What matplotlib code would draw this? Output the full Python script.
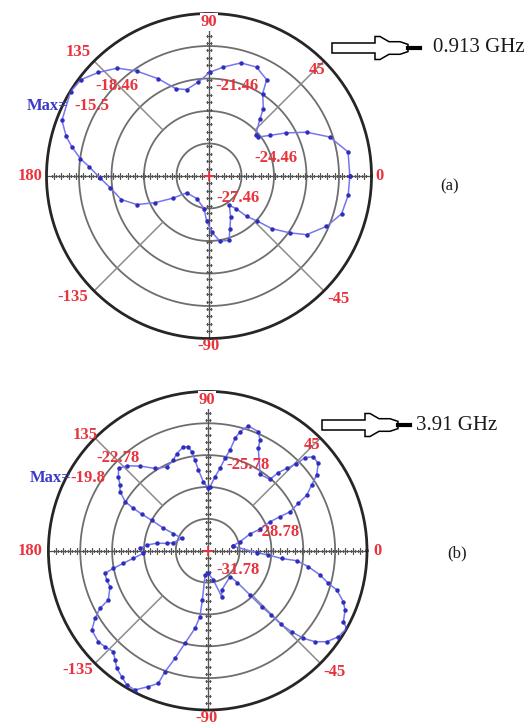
#Radiation patterns at the two resonant frequencies, (a) 0.913 GHz and (b) 3.91 GHz

import numpy as np
import matplotlib.pyplot as plt
from matplotlib.patches import Polygon

plt.rcParams['font.family'] = ['Liberation Serif', 'DejaVu Serif']

# (a) 0.913 GHz, angle in degrees, gain in dB
ang_a = [0, 9.8, 17.9, 24.2, 29.2, 33.7, 38.3, 41.5, 48.3, 51.1, 56.9, 59.1, 66.4, 74.2, 82.5, 89.4,
         96.5, 104.5, 110.7, 117.5, 124.6, 130.3, 136.9, 143, 148.7, 159.3, 164.5, 168, 172.3, 175.7,
         181.1, 186.7, 195, 201.6, 206.3, 211.7, 217, 241.4, 261.3, 267, 272.7, 279.6, 287.3, 291.7,
         297.9, 304.7, 309.6, 313, 317, 320, 324.9, 329, 336.8, 344.1, 352.1]
db_a = [-17.46, -17.43, -18.75, -20.59, -22.31, -23.70, -24.65, -24.70, -23.39, -22.47, -21.39, -20.10,
        -19.49, -19.61, -20.32, -20.87, -21.73, -22.22, -21.85, -20.35, -18.69, -17.40, -16.47, -15.67,
        -15.50, -15.95, -16.78, -17.52, -18.47, -19.39, -20.41, -21.27, -22.07, -23.30, -24.90, -26.59,
        -27.88, -28.09, -27.42, -26.31, -25.30, -24.34, -24.25, -25.23, -26.19, -27.17, -26.56, -25.36,
        -24.37, -22.90, -21.33, -19.95, -18.66, -17.73, -17.49]
rings_a = [-27.46, -24.46, -21.46, -18.46]
center_a, outer_a = -30.46, -15.46
max_a = -15.5

# (b) 3.91 GHz
ang_b = [10.6, 15.6, 21.5, 22.5, 24.9, 25.2, 25.3, 27.6, 29.3, 32.3, 34.8, 38.3, 41.7, 43.7, 44.5, 46.2,
         47.9, 48.9, 55.6, 63.7, 64.7, 66.9, 72.0, 74.8, 76.3, 77.5, 79.4, 81.5, 84.3, 87.9, 89.6, 93.6,
         96.6, 98.0, 99.2, 100.5, 103.2, 107.7, 110.7, 116.0, 122.6, 128.6, 133.7, 137.3, 140.4, 143.2,
         146.0, 149.3, 150.3, 151.0, 151.5, 153.0, 153.5, 154.6, 166.9, 169.8, 171.7, 174.7, 178.0,
         182.3, 185.8, 188.5, 190.6, 192.4, 196.2, 200.2, 206.4, 208.1, 211.0, 214.4, 219.8, 223.1,
         226.9, 229.7, 232.3, 235.7, 238.9, 242.4, 246.4, 249.6, 250.5, 253.1, 256.2, 260.7, 263.3,
         263.8, 264.0, 271.5, 280.8, 287.0, 289.6, 311.0, 313.0, 313.7, 314.0, 314.6, 314.9, 316.0,
         317.5, 319.7, 322.6, 326.6, 330.8, 332.4, 336.6, 339.4, 343.1, 344.9, 347.8, 351.0, 353.6,
         354.0, 355.9, 357.7]
db_b = [-32.40, -31.61, -30.51, -29.48, -28.32, -27.25, -26.21, -25.15, -24.08, -23.20, -22.29, -21.51,
        -21.48, -22.10, -23.14, -24.05, -24.86, -25.87, -26.06, -24.02, -23.26, -22.60, -22.42, -23.17,
        -23.89, -25.08, -25.93, -26.94, -27.78, -28.76, -28.91, -28.28, -27.12, -26.15, -25.33, -24.83,
        -24.74, -25.18, -25.65, -26.00, -25.59, -24.58, -23.73, -23.36, -23.86, -24.46, -24.83, -25.74,
        -26.72, -27.66, -28.76, -30.10, -31.17, -32.08, -31.45, -30.86, -29.92, -29.01, -28.41,
        -28.72, -27.74, -26.75, -25.74, -24.87, -24.87, -24.98, -24.33, -23.28, -22.41, -21.55, -21.38,
        -21.54, -21.77, -21.29, -20.78, -20.42, -20.02, -19.99, -20.81, -21.46, -22.64, -24.19, -25.81,
        -27.37, -28.53, -30.10, -32.48, -32.65, -31.97, -30.26, -30.85, -31.56, -30.67, -29.01, -27.45,
        -26.24, -25.02, -23.79, -22.57, -21.53, -20.67, -20.05, -19.79, -20.36, -20.69, -21.14, -22.08,
        -23.02, -23.96, -25.19, -26.34, -27.77, -29.06, -30.17]
rings_b = [-31.78, -28.78, -25.78, -22.78]
center_b, outer_b = -34.78, -19.78
max_b = -19.8

angle_labels = [0, 45, 90, 135, 180, -135, -90, -45]

W, H = 530, 727
RED = '#e8323c'
BLUE = '#3b3bc8'

fig = plt.figure(figsize=(W / 100, H / 100), dpi=100)


def px(x, y):
    # pixel position (from top-left) to figure fraction
    return x / W, 1 - y / H


def polar_panel(cx, cy, rad, ang, db, rings, r0, r1):
    ax = fig.add_axes([(cx - rad) / W, 1 - (cy + rad) / H, 2 * rad / W, 2 * rad / H], projection='polar')
    ax.set_rlim(r0, r1)
    ax.set_xticks([])
    ax.set_yticks([])
    ax.grid(False)
    ax.spines['polar'].set_color('#262626')
    ax.spines['polar'].set_linewidth(2.0)
    full = np.linspace(0, 2 * np.pi, 400)
    for r in rings:
        ax.plot(full, np.full_like(full, r), color='#6e6e6e', lw=1.3, zorder=1)
    # diagonal spokes, from the second ring outwards
    for a in [45, 135, 225, 315]:
        ax.plot([np.radians(a)] * 2, [rings[1], r1], color='#8c8c8c', lw=1.1, zorder=1)
    # main axes with tick crosses
    ticks = np.linspace(r0, r1, 23)[1:-1]
    for a in [0, 90, 180, 270]:
        t = np.radians(a)
        ax.plot([t, t], [r0, r1], color='#555555', lw=0.9, zorder=1)
        ax.plot(np.full_like(ticks, t), ticks, '+', color='#555555', ms=4, mew=0.9, zorder=1)
    ax.plot([0], [r0], '+', color=RED, ms=7, mew=1.2, zorder=2)
    t = np.radians(np.append(ang, ang[0]))
    r = np.append(db, db[0])
    ax.plot(t, r, color='#7676ee', lw=1.1, zorder=3)
    ax.plot(t, r, 'o', color='#2e2ebd', ms=3.2, mew=0, zorder=4)
    ax.patch.set_alpha(0)
    return ax


def arrow(x0, cy, text, tx):
    # hollow block arrow pointing at the frequency label
    pts = [(0, -5), (43, -5), (43, -11.5), (48, -11.5), (57, -6.3), (68, -6.3), (76, -3.6),
           (76, 3.6), (68, 6.3), (57, 6.3), (48, 11.5), (43, 11.5), (43, 5), (0, 5)]
    poly = [px(x0 + dx, cy + dy) for dx, dy in pts]
    fig.patches.append(Polygon(poly, closed=True, fill=False, ec='black', lw=1.1,
                               transform=fig.transFigure))
    fig.lines.append(plt.Line2D([px(x0 + 76, cy)[0], px(x0 + 88, cy)[0]], [px(0, cy)[1]] * 2,
                                color='black', lw=3, transform=fig.transFigure))
    fig.text(*px(tx, cy), text, fontsize=15, va='center', ha='left', color='#1a1a1a')


def label(x, y, s, color=RED, bg=False, size=12):
    kw = {}
    if bg:
        kw['bbox'] = dict(facecolor='white', edgecolor='none', pad=0.5)
    fig.text(*px(x, y), s, color=color, fontsize=size, fontweight='bold', ha='center', va='center',
             zorder=10, **kw)


# (a)
polar_panel(209, 176, 162.5, ang_a, db_a, rings_a, center_a, outer_a)
pos_a = [(379, 176), (317, 70), (209, 22), (78, 52), (30, 176), (73, 297), (209, 346), (338, 299)]
for (x, y), a in zip(pos_a, angle_labels):
    label(x, y, str(a), bg=(a == 90))
for (x, y), v in zip([(238, 198), (276, 158), (237, 86), (117, 86)], rings_a):
    label(x, y, '%.2f' % v)
label(48, 106, 'Max=', color=BLUE)
label(92, 106, '%.1f' % max_a)
arrow(332, 48, '0.913 GHz', 433)
fig.text(*px(450, 186), '(a)', fontsize=12, ha='center', va='center', color='#1a1a1a')

# (b)
polar_panel(207.7, 550.7, 159.3, ang_b, db_b, rings_b, center_b, outer_b)
pos_b = [(377, 551), (312, 445), (207, 400), (85, 435), (30, 551), (78, 670), (207, 718), (335, 672)]
for (x, y), a in zip(pos_b, angle_labels):
    label(x, y, str(a), bg=(a == 90))
for (x, y), v in zip([(238, 570), (278, 532), (248, 465), (118, 458)], rings_b):
    label(x, y, '%.2f' % v)
label(51, 478, 'Max=', color=BLUE)
label(88, 478, '%.1f' % max_b)
arrow(322, 425, '3.91 GHz', 416)
fig.text(*px(457, 553), '(b)', fontsize=12, ha='center', va='center', color='#1a1a1a')

plt.savefig('out.png', dpi=100)
